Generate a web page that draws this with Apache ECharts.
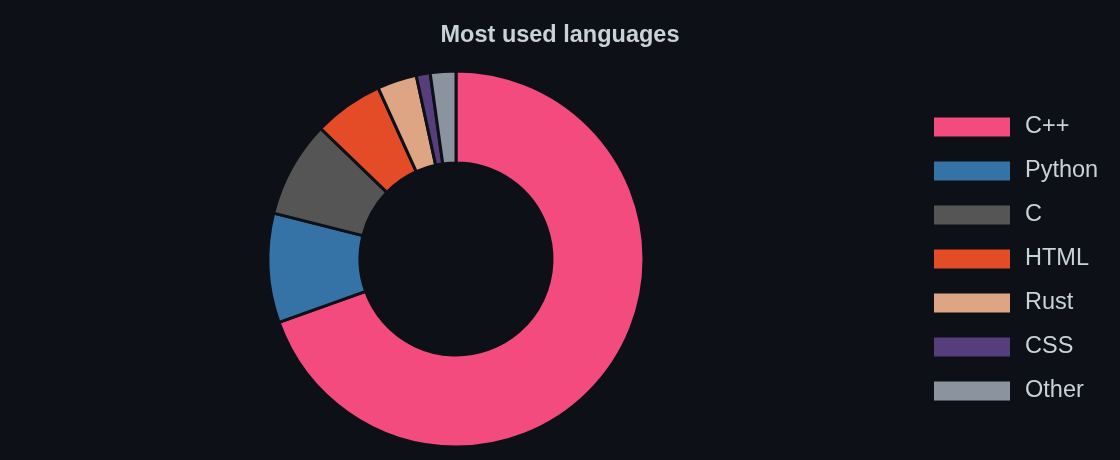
<!DOCTYPE html>
<html>
<head>
<meta charset="utf-8">
<style>
    html, body { margin: 0; padding: 0; background: #0d1117; }
    #chart { width: 1120px; height: 460px; }
</style>
<script src="https://cdn.jsdelivr.net/npm/echarts@6/dist/echarts.min.js"></script>
</head>
<body>
<div id="chart"></div>
<script type="text/javascript">
    // languages, share in percent
    var languages = ['C++', 'Python', 'C', 'HTML', 'Rust', 'CSS', 'Other'];
    var shares = [69.6, 9.4, 8.3, 6.0, 3.4, 1.2, 2.2];
    var colors = ['#f34b7d', '#3572a5', '#555555', '#e34c26', '#dea584', '#563d7c', '#8b949e'];

    var pieData = [];
    languages.forEach(function (name, i) {
        pieData.push({name: name, value: shares[i], itemStyle: {color: colors[i]}});
    });

    var fontFamily = 'Liberation Sans';

    var chart = echarts.init(document.getElementById('chart'));
    chart.setOption({
        backgroundColor: '#0d1117',
        animation: false,
        title: {
            text: 'Most used languages',
            left: 'center',
            top: 19,
            textStyle: {
                color: '#c9d1d9',
                fontSize: 23.5,
                fontWeight: 'bold',
                fontFamily: fontFamily
            }
        },
        legend: {
            orient: 'vertical',
            left: 932,
            top: 115,
            padding: 0,
            icon: 'rect',
            itemWidth: 78,
            itemHeight: 21,
            itemGap: 20,
            data: languages,
            textStyle: {
                color: '#c9d1d9',
                fontSize: 23.5,
                padding: [0, 0, 0, 9],
                fontFamily: fontFamily
            }
        },
        series: [
            {
                name: 'Languages',
                type: 'pie',
                center: [456, 259],
                radius: [96, 188],
                startAngle: 90,
                clockwise: true,
                label: {show: false},
                labelLine: {show: false},
                itemStyle: {
                    borderColor: '#0d1117',
                    borderWidth: 3
                },
                data: pieData
            }
        ]
    });
</script>
</body>
</html>
